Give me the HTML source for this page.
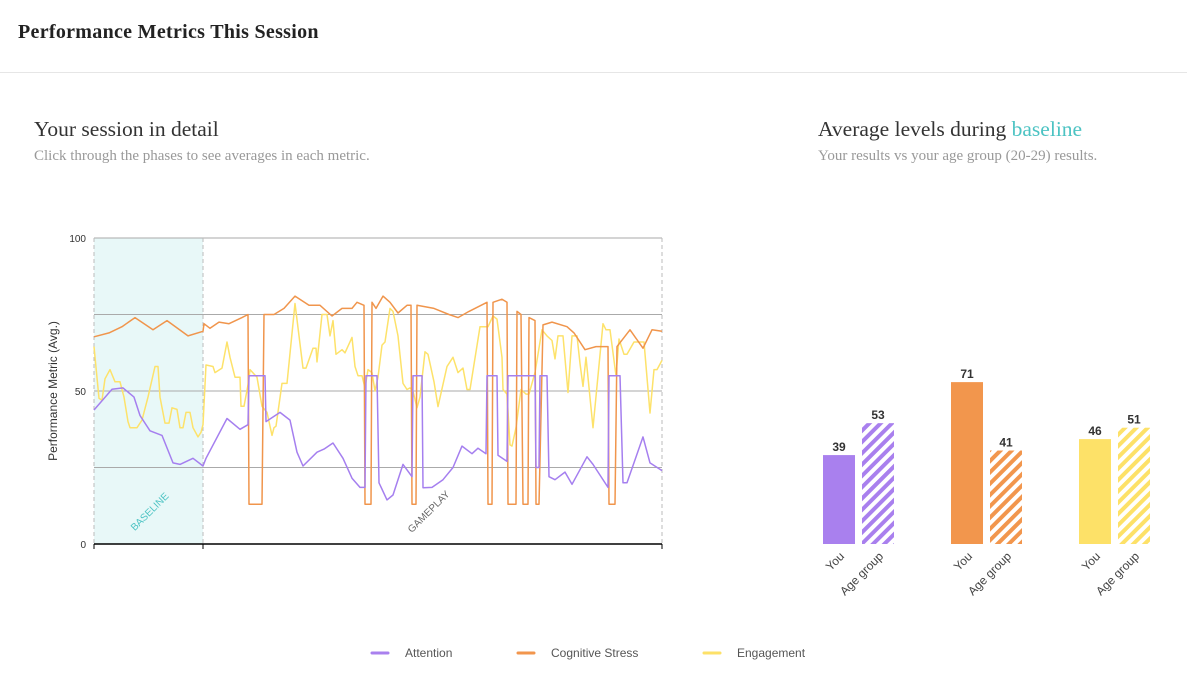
<!DOCTYPE html>
<html><head><meta charset="utf-8">
<style>
body{margin:0;width:1187px;height:699px;background:#fff;overflow:hidden;font-family:"Liberation Serif",serif;position:relative}
.hdr{position:absolute;left:18px;top:21px;font-size:20px;font-weight:bold;color:#222;letter-spacing:0.3px}
.rule{position:absolute;left:0;top:72px;width:1187px;height:1px;background:#e6e6e6}
.h2{position:absolute;font-size:21.5px;color:#333;top:117px}
.sub{position:absolute;font-size:15px;color:#999;top:148px}
.hl{color:#4cc3c3}
svg{position:absolute;left:0;top:0}
</style></head><body>
<div class="hdr">Performance Metrics This Session</div>
<div class="rule"></div>
<div class="h2" style="left:34px">Your session in detail</div>
<div class="sub" style="left:34px">Click through the phases to see averages in each metric.</div>
<div class="h2" style="left:818px">Average levels during <span class="hl">baseline</span></div>
<div class="sub" style="left:818px">Your results vs your age group (20-29) results.</div>
<svg id="chart" width="1187" height="699">
<defs>
<pattern id="hp" width="8" height="8" patternUnits="userSpaceOnUse" patternTransform="rotate(45)"><rect width="8" height="8" fill="#fff"/><rect width="4" height="8" fill="#a980ee"/></pattern>
<pattern id="ho" width="8" height="8" patternUnits="userSpaceOnUse" patternTransform="rotate(45)"><rect width="8" height="8" fill="#fff"/><rect width="4" height="8" fill="#f2964d"/></pattern>
<pattern id="hy" width="8" height="8" patternUnits="userSpaceOnUse" patternTransform="rotate(45)"><rect width="8" height="8" fill="#fff"/><rect width="4" height="8" fill="#fde168"/></pattern>
</defs>
</svg>
<script>
const orangeT=[0,15,28,41,59,73,94,109,110,116,125,135,148,154,155,168,170,180,190,201,215,226,238,248,258,263,270,271,277,278,282,289,296,304,313,317,318,322,323,340,355,364,375,393,394,398,399,408,413,414,422,423,427,429,434,435,441,442,445,449,458,473,480,491,502,514,515,521,523,536,549,558,568];
const orangeV=[67.7,69,71,74,70,73,68,69.5,72,70.5,72.5,72,74,75,13,13,75,75,77,81,78,78,74.5,77,77,79,78,13,13,79,77,81,79,75.5,78,78,13,13,78,77,75,74,76,79,13,13,79,80,79,13,13,76,75,13,13,74,73,13,13,71.6,72.5,71,69,63.5,64.5,64.5,13,13,64.5,70,64,70,69.5];
const purpleT=[0,18,29,40,46,56,68,79,86,99,109,112,133,146,154,155,171,172,186,196,203,209,223,230,239,249,258,266,271,272,283,285,293,299,309,318,319,328,329,338,349,359,368,378,384,392,393,403,404,413,414,441,442,445,446,453,455,461,471,478,493,499,514,515,526,529,533,549,556,568];
const purpleV=[43.8,50.6,51,48,42,37,35.5,26.5,26,28,25.5,28,41,37.5,39,55,55,40,43,40.5,30,25.5,30,31,33,28,21.5,18.5,18.5,55,55,20,14.4,16,26,22,55,55,18.4,18.5,21,25,32,29.5,31.3,29.5,55,55,29,27,55,55,25,25,55,55,22,21,23.5,19.5,28.5,26,18.5,55,55,20,20,35,26.5,24];
const yellowT=[0,5,8,11,16,21,26,30,34,36,43,48,54,61,64,66,71,75,78,83,86,89,92,96,99,104,107,109,112,119,121,128,133,136,141,146,147,150,154,156,163,168,173,178,180,182,188,193,201,209,212,219,222,223,228,233,236,239,242,248,251,258,261,264,268,271,274,278,281,284,288,291,296,299,304,309,313,316,319,323,326,331,334,340,344,353,359,364,369,373,376,386,394,399,403,408,409,413,416,418,422,427,432,435,441,448,453,458,461,464,469,474,478,483,486,489,492,499,509,512,516,522,525,530,533,540,550,556,560,563,568];
const yellowV=[64.5,47.6,47,54,57,53,53,48,40,38,38,40.5,48,58,58,48,39.5,39.5,44.5,44,38,38,43,43,38,35,36.5,39,58.5,58,56,57.5,66,61,54.5,54.5,45,45,52,57,54.5,45,43,35.5,38,38.5,52.5,52.5,78.6,57.5,57.5,64,64,59.5,75,75,68,73,62,63.5,62.5,67.5,58,55,55,51,57,56,50,54.5,65,66,77,76,68,52.5,50.5,51,50,44.5,48,62.8,62,53,44.9,58,61,56,57.5,50.5,50.5,71,71,74.5,73.5,61,50.5,49,32.4,32,38,50.5,49,49,56,70,68,66.5,60.5,68,68,49.5,68,68,59,51.5,61,38,72,70,70,55,67,62,62,66,66,42.8,57,57,60];
const yTicks=[0,50,100];
const gridVals=[25,50,75,100];
const phaseNames=["BASELINE","GAMEPLAY"];
const phaseBounds=[0,109,568];
const barGroups=["Attention","Cognitive Stress","Engagement"];
const youVals=[39,71,46];
const ageVals=[53,41,51];
const barLabels=["You","Age group"];

const NS="http://www.w3.org/2000/svg";
const svg=document.getElementById('chart');
function el(t,a,p){const e=document.createElementNS(NS,t);for(const k in a)e.setAttribute(k,a[k]);(p||svg).appendChild(e);return e;}
const X0=94,X1=662,Y0=544,Y1=238,TMAX=568;
const xs=t=>X0+t/TMAX*(X1-X0);
const ys=v=>Y0-v/100*(Y0-Y1);

let r=el('rect',{x:xs(phaseBounds[0]),y:Y1,width:xs(phaseBounds[1])-xs(phaseBounds[0]),height:Y0-Y1,fill:'#e8f8f8'});


gridVals.forEach(v=>{const g=el('line',{x1:X0,x2:X1,y1:ys(v),y2:ys(v),stroke:'#aaa','stroke-width':1});

});
phaseBounds.forEach(b=>{const d=el('line',{x1:xs(b),x2:xs(b),y1:Y1,y2:Y0,stroke:'#bbb','stroke-dasharray':'4,3'});

});
yTicks.forEach(v=>{const t=el('text',{x:86,y:ys(v)+4,'text-anchor':'end','font-size':10,fill:'#333','font-family':'Liberation Sans, sans-serif'});t.textContent=v;

});
let yl=el('text',{x:0,y:0,transform:'translate(57,391) rotate(-90)','text-anchor':'middle','font-size':12,fill:'#333','font-family':'Liberation Sans, sans-serif'});yl.textContent='Performance Metric (Avg.)';


function series(T,V,c,name){const d=T.map((t,i)=>(i?'L':'M')+xs(t).toFixed(1)+','+ys(V[i]).toFixed(1)).join('');
const p=el('path',{d:d,fill:'none',stroke:c,'stroke-width':1.5,'stroke-linejoin':'round'});

}
series(yellowT,yellowV,'#fde26a','engagement-line');
series(orangeT,orangeV,'#f0954c','cognitive-stress-line');
series(purpleT,purpleV,'#a57fef','attention-line');
let ax=el('line',{x1:X0,x2:X1,y1:Y0,y2:Y0,stroke:'#000','stroke-width':1.5});


phaseBounds.forEach(b=>{const t=el('line',{x1:xs(b),x2:xs(b),y1:Y0,y2:Y0+5,stroke:'#000'});

});
phaseNames.forEach((n,i)=>{const cx=i==0?152:431;const t=el('text',{x:0,y:0,transform:`translate(${cx},514) rotate(-45)`,'text-anchor':'middle','font-size':10,fill:i==0?'#4cc3c3':'#666','font-family':'Liberation Sans, sans-serif'});t.textContent=n;

});

const colors=['#a980ee','#f2964d','#fde168'],pats=['url(#hp)','url(#ho)','url(#hy)'];
const gx=[823,951,1079],BW=32,BY=544,BS=2.28;
barGroups.forEach((g,i)=>{[youVals[i],ageVals[i]].forEach((v,j)=>{const x=gx[i]+j*39;const h=v*BS;
const b=el('rect',{x:x,y:BY-h,width:BW,height:h,fill:j?pats[i]:colors[i]});


const t=el('text',{x:x+BW/2,y:BY-h-4,'text-anchor':'middle','font-size':12,'font-weight':'bold',fill:'#333','font-family':'Liberation Sans, sans-serif'});t.textContent=v;


const l=el('text',{x:0,y:0,transform:`translate(${x+BW/2+6},557) rotate(-45)`,'text-anchor':'end','font-size':12,fill:'#444','font-family':'Liberation Sans, sans-serif'});l.textContent=barLabels[j];

});});

const lx=[372,518,704];
barGroups.forEach((g,i)=>{const l=el('line',{x1:lx[i],x2:lx[i]+16,y1:653,y2:653,stroke:colors[i],'stroke-width':3,'stroke-linecap':'round'});


const t=el('text',{x:lx[i]+33,y:657,'font-size':12,fill:'#555','font-family':'Liberation Sans, sans-serif'});t.textContent=g;

});
</script>
</body></html>
